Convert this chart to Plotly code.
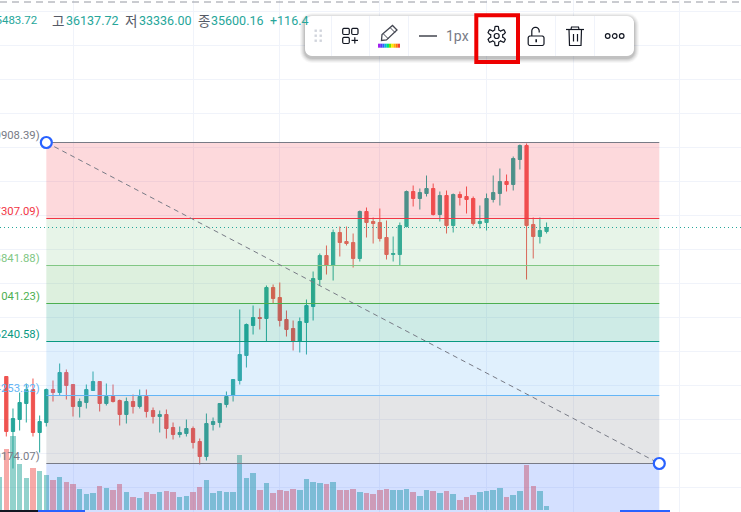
import math
import plotly.graph_objects as go

W, H = 741, 512

# candle data (estimated prices on the chart's own scale)
idx = list(range(82))
high = [32620,31980,32300,32480,32580,31840,32380,32540,32880,32760,32460,32180,32460,32720,32520,32480,32460,32160,32200,32260,
        32360,32360,32000,31940,31960,31700,31620,31760,31620,31380,31880,31800,32080,32320,32560,33960,33680,34040,33980,34440,
        34460,34500,33940,33740,33800,34160,34720,35080,35240,35560,35620,35620,35480,35940,36000,35800,35980,35740,35420,35700,
        36340,36440,36380,36640,36480,36320,36340,36280,36320,36420,36220,36040,36280,36640,36780,36660,37020,37260,37280,35800,
        35800,35700]
low = [31420,30780,31540,31700,31420,31100,31620,32120,32240,32160,31820,31800,31980,32340,31920,32040,32100,31640,31680,31880,
       31980,31800,31680,31500,31380,31360,31400,31420,31180,30860,30940,31540,31600,32000,32120,32460,32800,33460,33560,33320,
       34080,33620,33420,33140,33100,33060,33740,34440,34660,34540,35020,35240,34800,34920,35400,35280,35320,34960,34920,34840,
       35600,36020,35960,36220,35840,35720,35480,35500,36040,35880,35640,35580,35540,36100,36040,36320,36340,36760,34560,34980,
       35280,35480]
open_ = [32620,31520,31760,32080,32360,31500,31700,32360,32300,32700,32460,32020,32100,32340,32520,32080,32220,32140,31860,32120,
         32020,32220,31940,31820,31860,31600,31460,31480,31580,31320,31020,31660,31700,32060,32240,32540,33040,33640,33800,33780,
         34400,34200,33760,33580,33320,33700,34020,34560,35040,34840,35500,35320,35300,34980,35920,35720,35700,35400,35060,35060,
         35620,36320,36180,36280,36380,35860,36240,35640,36260,36220,36180,35680,35700,36160,36280,36520,36460,36960,37240,35660,
         35420,35520]
close = [31520,31780,32100,32360,31500,31720,32360,32300,32700,32440,32020,32120,32360,32520,32080,32220,32120,31860,32120,32020,
         32220,31920,31820,31860,31580,31460,31500,31580,31300,31020,31680,31720,32080,32220,32560,33060,33660,33800,33780,34400,
         34180,33740,33560,33320,33720,34040,34580,35040,34840,35500,35300,35280,34980,35920,35700,35680,35380,35060,35080,35640,
         36320,36180,36300,36380,35860,36240,35640,36260,36200,36160,35680,35720,36180,36300,36520,36460,36980,37240,35640,35420,
         35540,35600]
# one more volume bar sits left of the first visible candle
vol_idx = list(range(-1, 82))
volume = [330,610,740,460,320,420,390,350,300,330,280,260,210,160,170,240,220,200,260,180,130,120,180,160,180,190,180,130,140,180,
          230,300,170,190,180,180,550,320,370,200,270,170,200,190,210,200,310,280,270,260,280,200,200,210,180,170,160,200,210,200,
          200,210,180,140,200,190,170,190,160,100,130,150,180,190,200,220,130,150,190,450,240,190,40]

# Fibonacci tool
fib_start, fib_end = 6, 97.9
fib_levels = [37300, 35780, 34840, 34080, 33320, 32240, 30880]
fib_line_colors = ["#787b86", "#f23645", "#81c784", "#4caf50", "#089981", "#64b5f6", "#787b86"]
fib_fill_colors = ["rgba(242,54,69,0.19)", "rgba(129,199,132,0.19)", "rgba(76,175,80,0.19)", "rgba(8,153,129,0.2)",
                   "rgba(100,181,246,0.2)", "rgba(120,123,134,0.2)", "rgba(41,98,255,0.2)"]
fib_labels = ["0(40908.39)", "0.236(37307.09)", "0.382(38841.88)", "0.5(31041.23)", "0.618(36240.58)", "0.786(34253.22)", "1(29174.07)"]
last_price = 35600
grid_x = [10, 28, 41, 56, 72, 85, 101]

UP, DOWN = "#26a69a", "#ef5350"
UPV, DOWNV = "rgba(38,166,154,0.5)", "rgba(239,83,80,0.5)"
vol_up = [True] + [c >= o for o, c in zip(open_, close)]

fig = go.Figure()
fig.add_trace(go.Bar(x=vol_idx, y=volume, yaxis="y2", width=0.82,
                     marker=dict(color=[UPV if u else DOWNV for u in vol_up], line_width=0), hoverinfo="skip"))
fig.add_trace(go.Candlestick(x=idx, open=open_, high=high, low=low, close=close, whiskerwidth=0,
                             increasing=dict(line=dict(color=UP, width=1), fillcolor=UP),
                             decreasing=dict(line=dict(color=DOWN, width=1), fillcolor=DOWN)))


def px(x):
    return x / W


def py(y):
    return 1 - y / H


def P(*pts, close_path=False):
    s = "M" + " L".join(f"{px(x):.5f},{py(y):.5f}" for x, y in pts)
    return s + (" Z" if close_path else "")


def rrect(x0, y0, x1, y1, r):
    """rounded rectangle path in page pixels"""
    k = []
    for cx, cy, a0 in ((x1 - r, y0 + r, -90), (x1 - r, y1 - r, 0), (x0 + r, y1 - r, 90), (x0 + r, y0 + r, 180)):
        for t in range(0, 91, 15):
            a = math.radians(a0 + t)
            k.append((cx + r * math.cos(a), cy + r * math.sin(a)))
    return P(*k, close_path=True)


shapes = []
# zones over the candles
bands = fib_levels + [fib_levels[-1] - 980]
for i, col in enumerate(fib_fill_colors):
    shapes.append(dict(type="rect", xref="x", yref="y", x0=fib_start, x1=fib_end, y0=bands[i + 1], y1=bands[i],
                       fillcolor=col, line_width=0, layer="above"))
for lv, col in zip(fib_levels, fib_line_colors):
    shapes.append(dict(type="line", xref="x", yref="y", x0=fib_start, x1=fib_end, y0=lv, y1=lv,
                       line=dict(color=col, width=1), layer="above"))
# last-price dotted line
shapes.append(dict(type="line", xref="paper", yref="y", x0=0, x1=1, y0=last_price, y1=last_price,
                   line=dict(color="#26a69a", width=1, dash="1px,3px"), layer="above"))
# diagonal
shapes.append(dict(type="line", xref="x", yref="y", x0=fib_start, x1=fib_end, y0=fib_levels[0], y1=fib_levels[-1],
                   line=dict(color="#787b86", width=1, dash="5px,4px"), layer="above"))
# anchors
for xd, yd in ((fib_start, fib_levels[0]), (fib_end, fib_levels[-1])):
    shapes.append(dict(type="circle", xref="x", yref="y", xsizemode="pixel", ysizemode="pixel", xanchor=xd, yanchor=yd,
                       x0=-5.5, x1=5.5, y0=-5.5, y1=5.5, fillcolor="white", line=dict(color="#2962ff", width=2.2), layer="above"))


def sh_line(x0, y0, x1, y1, color, width=1, dash=None):
    ln = dict(color=color, width=width)
    if dash:
        ln["dash"] = dash
    shapes.append(dict(type="line", xref="paper", yref="paper", x0=px(x0), x1=px(x1), y0=py(y0), y1=py(y1), line=ln, layer="above"))


def sh_path(path, fill="rgba(0,0,0,0)", color="#131722", width=1.2):
    shapes.append(dict(type="path", xref="paper", yref="paper", path=path, fillcolor=fill,
                       line=dict(color=color, width=width), layer="above"))


def sh_rect(x0, y0, x1, y1, fill):
    shapes.append(dict(type="rect", xref="paper", yref="paper", x0=px(x0), x1=px(x1), y0=py(y0), y1=py(y1),
                       fillcolor=fill, line_width=0, layer="above"))


# top dashes and bottom strips
sh_line(0, 2, W, 2, "#9598a1", 1, "7px,5px")
sh_line(0, 511, 38, 511, "#131722", 2)
sh_line(38, 511, 85, 511, "#2962ff", 2)
sh_line(620, 511, 670, 511, "#2962ff", 2)

# toolbar
for g, a in ((5, 0.03), (4, 0.04), (3, 0.05), (2, 0.06), (1, 0.08)):
    shapes.append(dict(type="path", xref="paper", yref="paper", path=rrect(305 - g, 16 - g + 2, 634 + g, 56 + g + 2, 7 + g),
                       fillcolor=f"rgba(0,0,0,{a})", line_width=0, layer="above"))
shapes.append(dict(type="path", xref="paper", yref="paper", path=rrect(305, 16, 634, 56, 7),
                   fillcolor="white", line_width=0, layer="above"))
for xs in (331.5, 369.5, 408.5, 555.5, 594.5):
    sh_line(xs, 16, xs, 56, "#f0f3fa", 1)
for dx in (315.7, 320.7):
    for dy in (30.7, 35.7, 40.7):
        sh_rect(dx - 1.2, dy - 1.2, dx + 1.2, dy + 1.2, "#d1d4dc")
# template icon
sh_path(rrect(342.7, 28.3, 349.3, 34.5, 1.5))
sh_path(rrect(351.7, 28.3, 358, 34.5, 1.5))
sh_path(rrect(342.7, 37.3, 349.3, 43.5, 1.5))
sh_line(351.5, 40.4, 358, 40.4, "#131722", 1.2)
sh_line(354.8, 37.2, 354.8, 43.6, "#131722", 1.2)
# pencil
sh_path(P((381.5, 40.5), (382, 34.5), (392.5, 25.5), (397, 30), (386.5, 40), close_path=True), color="#434651", width=1.3)
sh_line(383.5, 34, 388.5, 39, "#434651", 1)
sh_line(390.5, 28, 395, 32.5, "#434651", 1)
for i, c in enumerate(["#a020f0", "#5e35f2", "#2962ff", "#00bcd4", "#00e676", "#76e000", "#ffeb00", "#ffb300", "#ff7a00", "#f44336"]):
    sh_rect(378 + i * 2.2, 43.7, 378 + (i + 1) * 2.2, 47.7, c)
# line sample
sh_line(419, 36, 437, 36, "#131722", 1.2)
# gear
gear = []
for t in range(0, 360, 5):
    a = math.radians(t)
    r = 8 + 1.7 * max(-1, min(1, 2.2 * math.cos(6 * a)))
    gear.append((496.7 + r * math.cos(a + math.pi / 6) * 0.95, 36 + r * math.sin(a + math.pi / 6)))
sh_path(P(*gear, close_path=True))
shapes.append(dict(type="circle", xref="paper", yref="paper", x0=px(494.2), x1=px(499.2), y0=py(38.5), y1=py(33.5),
                   line=dict(color="#131722", width=1.2), fillcolor="rgba(0,0,0,0)", layer="above"))
# red box
shapes.append(dict(type="rect", xref="paper", yref="paper", x0=px(476.3), x1=px(518), y0=py(62), y1=py(15.3),
                   line=dict(color="#ee0000", width=4), fillcolor="rgba(0,0,0,0)", layer="above"))
# open lock
sh_path(rrect(528.2, 36, 544, 45.5, 2))
arc = [(531.8, 36), (531.8, 31)] + [(535.5 + 3.7 * math.cos(math.radians(t)), 31 + 3.7 * math.sin(math.radians(t))) for t in range(180, 361, 20)] + [(539.2, 32.5)]
sh_path(P(*arc))
sh_rect(535.4, 39.2, 537, 42.2, "#131722")
# trash
sh_line(566, 29.5, 584, 29.5, "#131722", 1.2)
sh_path(P((571, 29.5), (571.5, 27), (578.5, 27), (579, 29.5)))
sh_path(P((569, 29.5), (569.5, 45.5), (581, 45.5), (581.5, 29.5)))
sh_line(573.5, 34, 573.5, 41.5, "#131722", 1.2)
sh_line(577.5, 34, 577.5, 41.5, "#131722", 1.2)
# more
for cx in (607.7, 614.7, 621.7):
    shapes.append(dict(type="circle", xref="paper", yref="paper", x0=px(cx - 2.3), x1=px(cx + 2.3), y0=py(38.3), y1=py(33.7),
                       line=dict(color="#131722", width=1.2), fillcolor="rgba(0,0,0,0)", layer="above"))

ann = []
NUM = "Roboto"


def text(x, y, s, color, size=12.5, anchor="left", family=NUM):
    ann.append(dict(xref="paper", yref="paper", x=px(x), y=py(y), text=s, showarrow=False, xanchor=anchor, yanchor="middle",
                    font=dict(family=family, size=size, color=color)))


for lv_y, lab, col in zip((135, 211, 258, 296, 334, 388, 456), fib_labels, fib_line_colors):
    text(42, lv_y, lab, col, 11.3, "right")

text(40, 20, "시35483.72", "#26a69a", 11.5, "right")
for x, s in ((49.5, "고"), (122.5, "저"), (195.5, "종")):
    text(x, 19.5, s, "#555a66", 13.5, "left", "Noto Sans CJK KR")
for x, s in ((63.5, "36137.72"), (136.5, "33336.00"), (208.5, "35600.16"), (267.5, "+116.4")):
    text(x, 20, s, "#26a69a", 12.5)
text(444, 36, "1px", "#787b86", 14)

fig.update_layout(
    width=W, height=H, margin=dict(l=0, r=0, t=0, b=0), showlegend=False,
    plot_bgcolor="white", paper_bgcolor="white", bargap=0,
    xaxis=dict(range=[-0.945, 110.15], showticklabels=False, zeroline=False, showline=False, rangeslider_visible=False,
               tickmode="array", tickvals=grid_x, showgrid=True, gridcolor="#f0f3fa", ticks=""),
    yaxis=dict(range=[29910, 40150], showticklabels=False, zeroline=False, showline=False, tick0=30400, dtick=680,
               showgrid=True, gridcolor="#f0f3fa", ticks=""),
    yaxis2=dict(range=[-20, 5100], overlaying="y", visible=False),
    shapes=shapes, annotations=ann,
)
fig.write_html("out.html", post_script="document.body.style.margin='0';document.body.style.overflow='hidden';",
               config=dict(displayModeBar=False))
